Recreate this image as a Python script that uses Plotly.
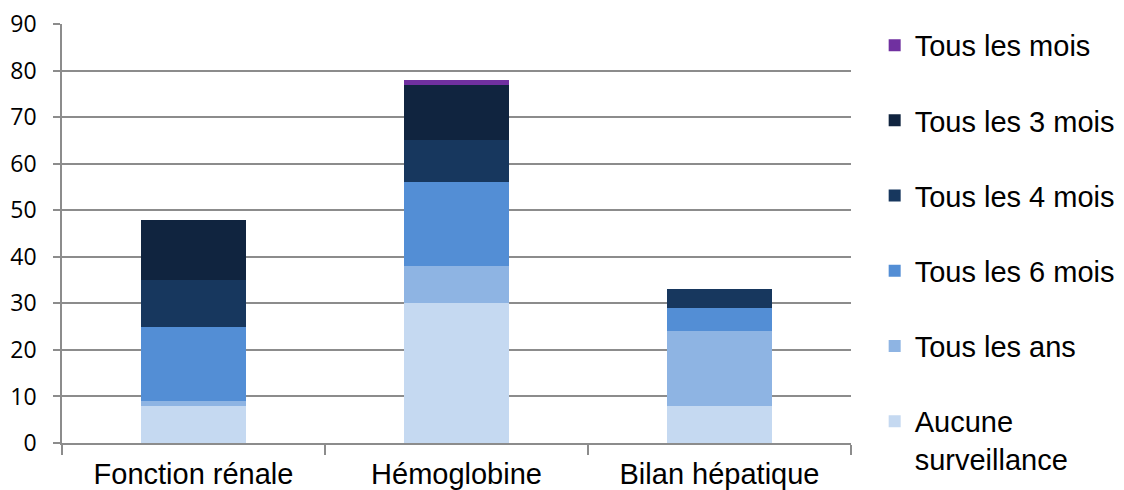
import plotly.graph_objects as go

categories = ['Fonction rénale', 'Hémoglobine', 'Bilan hépatique']

series_names = ['Aucune<br>surveillance', 'Tous les ans', 'Tous les 6 mois',
                'Tous les 4 mois', 'Tous les 3 mois', 'Tous les mois']
aucune = [8, 30, 8]
tous_ans = [1, 8, 16]
tous_6_mois = [16, 18, 5]
tous_4_mois = [10, 9, 4]
tous_3_mois = [13, 12, 0]
tous_mois = [0, 1, 0]

colors = ['#c5d9f1', '#8eb4e3', '#538ed5', '#17375e', '#10243f', '#7030a0']
values = [aucune, tous_ans, tous_6_mois, tous_4_mois, tous_3_mois, tous_mois]

fig = go.Figure()
for i, (name, vals, col) in enumerate(zip(series_names, values, colors)):
    fig.add_trace(go.Bar(x=categories, y=vals, name=name, marker_color=col,
                         marker_line_width=0, legendgroup=str(i),
                         legendrank=100 - i))

fig.update_layout(
    barmode='stack',
    bargap=0.6,
    width=1124, height=490,
    margin=dict(l=54, r=277, t=16, b=55),
    plot_bgcolor='white',
    paper_bgcolor='white',
    font=dict(family='Liberation Sans, Arial', color='black'),
    legend=dict(
        traceorder='grouped',
        tracegroupgap=34.5,
        x=1.03, y=1.01, xanchor='left', yanchor='top',
        font=dict(size=29, family='Liberation Sans, Arial'),
        valign='top',
        itemwidth=30,
        borderwidth=0,
        maxheight=480,
    ),
)
fig.update_yaxes(
    range=[0, 90], dtick=10, automargin=False,
    ticklabeloverflow='allow',
    showgrid=True, gridcolor='#8c8c8c', gridwidth=1.5,
    showline=True, linecolor='#8c8c8c', linewidth=1.5,
    ticks='outside', ticklen=7, tickcolor='#8c8c8c', tickwidth=1.5,
    ticklabelstandoff=12,
    tickfont=dict(size=23, family='Open Sans'),
    zeroline=False,
)
fig.update_xaxes(
    automargin=False,
    ticklabeloverflow='allow',
    showline=True, linecolor='#8c8c8c', linewidth=1.5,
    ticks='outside', tickson='boundaries', ticklen=10, tickcolor='#8c8c8c', tickwidth=1.5,
    ticklabelstandoff=4,
    tickfont=dict(size=29, family='Liberation Sans, Arial'),
)

fig.write_html("out.html")
